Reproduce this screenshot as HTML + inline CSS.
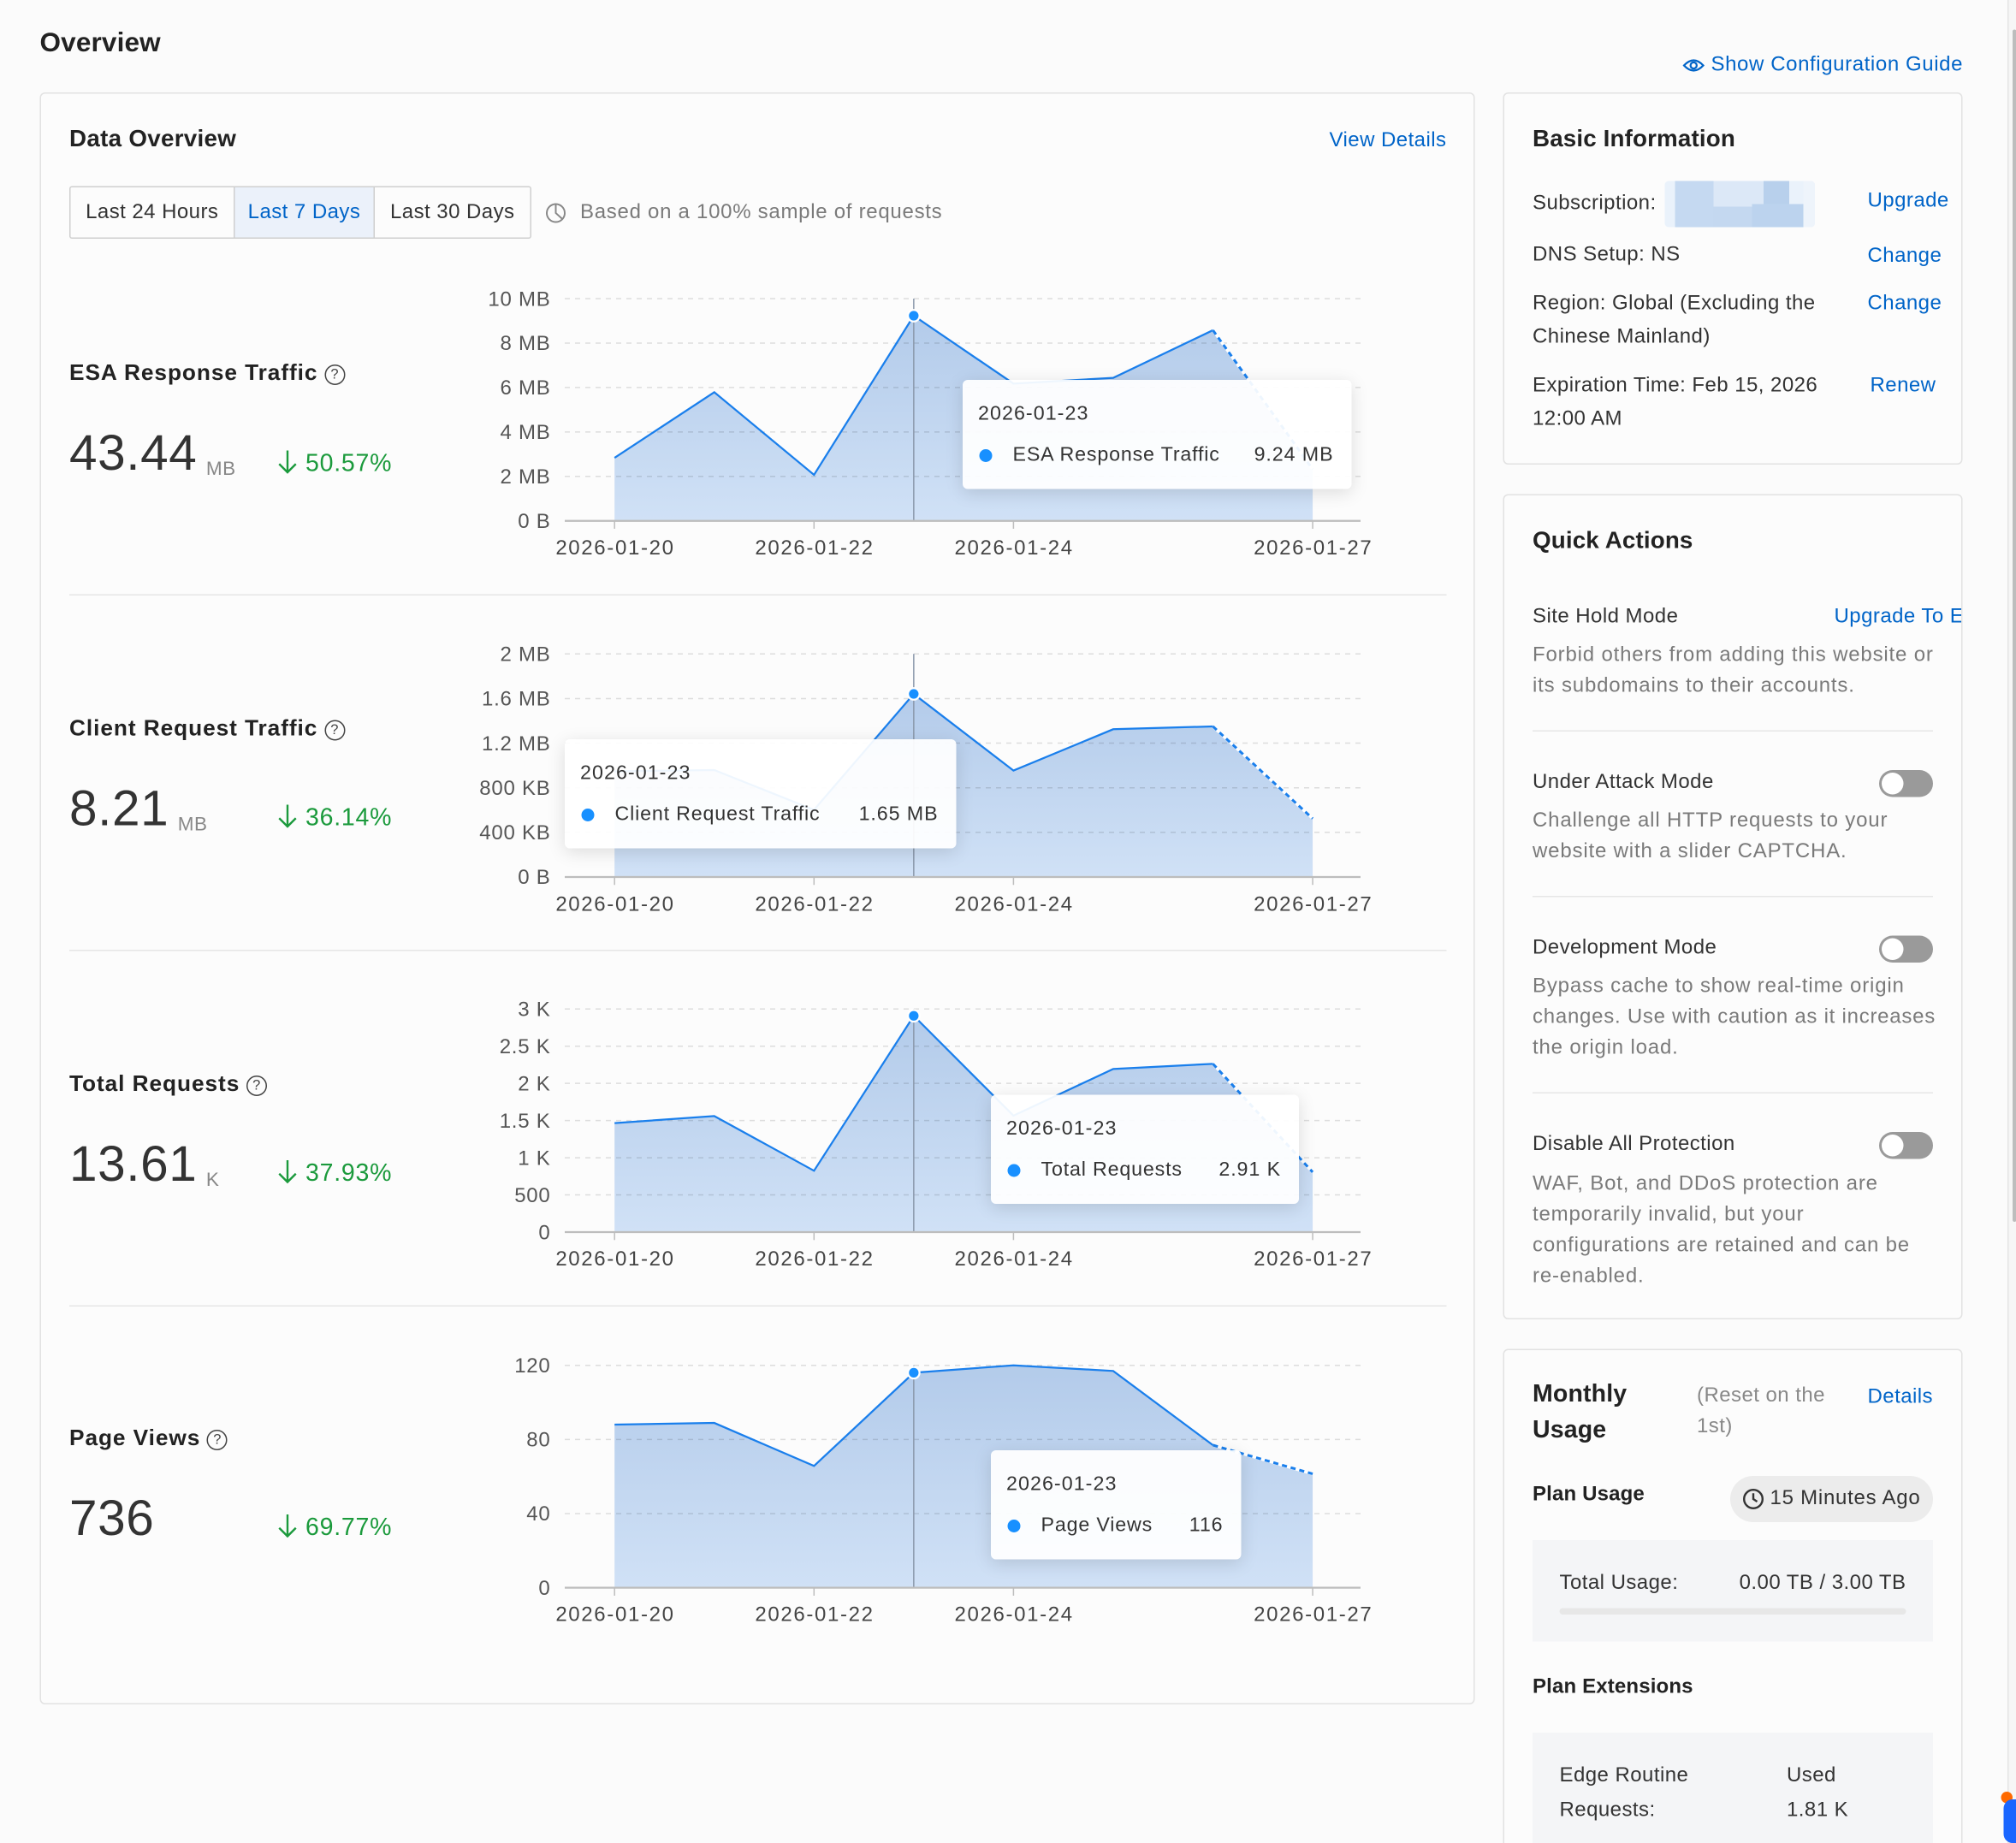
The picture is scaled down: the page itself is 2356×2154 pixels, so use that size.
<!DOCTYPE html>
<html><head><meta charset="utf-8">
<style>
html,body{margin:0;padding:0;width:2356px;height:2154px;overflow:hidden;background:#fbfbfb;}
#p{position:absolute;left:0;top:0;width:1571px;height:1436px;transform:scale(1.5);transform-origin:0 0;font-family:"Liberation Sans",Arial,sans-serif;color:#333;background:#fbfbfb;overflow:hidden;}
.t{position:absolute;white-space:nowrap;line-height:24px;font-size:16px;letter-spacing:0.3px;}
.b{font-weight:bold;color:#222;letter-spacing:0.1px;}
.lnk{color:#0064c8;}
.g{color:#7a7a7a;}
.card{position:absolute;border:1px solid #e2e2e2;border-radius:4px;background:#fcfcfc;box-sizing:border-box;}
.div{position:absolute;height:1px;background:#e6e6e6;}
.tog{position:absolute;width:42px;height:21px;border-radius:11px;background:#9a9a9a;}
.tog:after{content:"";position:absolute;left:2px;top:2px;width:17px;height:17px;border-radius:50%;background:#fff;}
.tip{position:absolute;height:85px;background:rgba(255,255,255,0.93);border-radius:4px;box-shadow:0 3px 14px rgba(0,0,0,0.13);font-size:15.5px;color:#333;}
.tip .td{position:absolute;left:12px;top:15px;line-height:24px;letter-spacing:0.7px;}
.tip .tr{position:absolute;left:13px;right:14px;top:47px;line-height:24px;display:flex;align-items:center;white-space:nowrap;letter-spacing:0.55px;}
.tip .dot{width:10px;height:10px;border-radius:50%;background:#1890ff;margin-right:16px;flex:none;}
.tip .tv{margin-left:auto;letter-spacing:0.6px;}
.help{display:inline-block;width:14px;height:14px;border:1.4px solid #444;border-radius:50%;font-size:11px;line-height:14px;text-align:center;font-weight:normal;vertical-align:1px;margin-left:5px;color:#444;letter-spacing:0;}
.num{font-size:39px;color:#333;letter-spacing:0.4px;line-height:44px;}
.unit{font-size:15px;color:#888;margin-left:7px;position:relative;top:4px;letter-spacing:0.3px;}
.pct{color:#1b9a3c;font-size:19px;letter-spacing:0.5px;}
.btn{position:absolute;top:0;height:39px;line-height:39px;text-align:center;font-size:16px;letter-spacing:0.3px;color:#333;}
.st{font-size:17.5px;letter-spacing:0.62px;}
</style></head>
<body><div id="p">

<div class="t b" style="left:31px;top:21px;font-size:21px;line-height:26px;">Overview</div>

<!-- Left card -->
<div class="card" style="left:31px;top:72px;width:1118px;height:1256px;"></div>
<div class="t b" style="left:54px;top:96px;font-size:18.5px;letter-spacing:0.2px;">Data Overview</div>
<div class="t lnk" style="right:444px;top:98px;">View Details</div>

<div style="position:absolute;left:54px;top:145px;width:360px;height:41px;border:1px solid #cfcfcf;border-radius:2px;box-sizing:border-box;">
  <div class="btn" style="left:0;width:127px;">Last 24 Hours</div>
  <div class="btn" style="left:127px;width:110px;background:#ebf1fa;color:#0064c8;border-left:1px solid #cfcfcf;border-right:1px solid #cfcfcf;box-sizing:border-box;">Last 7 Days</div>
  <div class="btn" style="left:237px;width:121px;">Last 30 Days</div>
</div>
<svg style="position:absolute;left:424px;top:157px" width="18" height="18" viewBox="0 0 18 18"><circle cx="9" cy="9" r="7" fill="none" stroke="#888" stroke-width="1.3"/><path d="M9 2 V9 L14 13.5" fill="none" stroke="#888" stroke-width="1.3"/></svg>
<div class="t g" style="left:452px;top:154px;letter-spacing:0.48px;">Based on a 100% sample of requests</div>

<div class="div" style="left:54px;top:463px;width:1073px;"></div>
<div class="div" style="left:54px;top:740px;width:1073px;"></div>
<div class="div" style="left:54px;top:1017px;width:1073px;"></div>

<!-- Section 1 -->
<div class="t b st" style="left:54px;top:278px;">ESA Response Traffic<span class="help">?</span></div>
<div class="t" style="left:54px;top:332px;line-height:44px;"><span class="num">43.44</span><span class="unit">MB</span></div>
<div class="t pct" style="left:216px;top:350px;"><svg width="16" height="20" viewBox="0 0 16 20" style="vertical-align:-3px;margin-right:6px"><path d="M8 1 V18 M1.5 11.5 L8 18 L14.5 11.5" fill="none" stroke="#1b9a3c" stroke-width="1.6"/></svg>50.57%</div>

<!-- Section 2 -->
<div class="t b st" style="left:54px;top:555px;">Client Request Traffic<span class="help">?</span></div>
<div class="t" style="left:54px;top:609px;line-height:44px;"><span class="num">8.21</span><span class="unit">MB</span></div>
<div class="t pct" style="left:216px;top:626px;"><svg width="16" height="20" viewBox="0 0 16 20" style="vertical-align:-3px;margin-right:6px"><path d="M8 1 V18 M1.5 11.5 L8 18 L14.5 11.5" fill="none" stroke="#1b9a3c" stroke-width="1.6"/></svg>36.14%</div>

<!-- Section 3 -->
<div class="t b st" style="left:54px;top:832px;">Total Requests<span class="help">?</span></div>
<div class="t" style="left:54px;top:886px;line-height:44px;"><span class="num">13.61</span><span class="unit">K</span></div>
<div class="t pct" style="left:216px;top:903px;"><svg width="16" height="20" viewBox="0 0 16 20" style="vertical-align:-3px;margin-right:6px"><path d="M8 1 V18 M1.5 11.5 L8 18 L14.5 11.5" fill="none" stroke="#1b9a3c" stroke-width="1.6"/></svg>37.93%</div>

<!-- Section 4 -->
<div class="t b st" style="left:54px;top:1108px;">Page Views<span class="help">?</span></div>
<div class="t" style="left:54px;top:1162px;line-height:44px;"><span class="num">736</span></div>
<div class="t pct" style="left:216px;top:1179px;"><svg width="16" height="20" viewBox="0 0 16 20" style="vertical-align:-3px;margin-right:6px"><path d="M8 1 V18 M1.5 11.5 L8 18 L14.5 11.5" fill="none" stroke="#1b9a3c" stroke-width="1.6"/></svg>69.77%</div>

<!-- Charts -->
<svg style="position:absolute;left:0;top:0" width="1571" height="1436" viewBox="0 0 1571 1436" font-family="Liberation Sans, Arial, sans-serif">
<defs>
<linearGradient id="gr" x1="0" y1="0" x2="0" y2="1"><stop offset="0" stop-color="#b3cbea"/><stop offset="1" stop-color="#d0e1f6"/></linearGradient>
</defs>

<!-- Chart 1 -->
<path d="M478.8,405.8 L478.8,356.7 L556.5,305.6 L634.2,370 L711.9,246 L789.6,298.9 L867.3,294.4 L945,257.3 L1022.7,365.6 L1022.7,405.8 Z" fill="url(#gr)"/>
<g stroke="rgba(0,0,0,0.12)" stroke-dasharray="4 4" stroke-width="1">
<line x1="440" y1="232.7" x2="1060" y2="232.7"/><line x1="440" y1="267.3" x2="1060" y2="267.3"/><line x1="440" y1="301.9" x2="1060" y2="301.9"/><line x1="440" y1="336.6" x2="1060" y2="336.6"/><line x1="440" y1="371.2" x2="1060" y2="371.2"/>
</g>
<line x1="711.9" y1="232.7" x2="711.9" y2="405.8" stroke="#8a98ab" stroke-width="1"/>
<line x1="440" y1="405.8" x2="1060" y2="405.8" stroke="#bdbdbd" stroke-width="1.5"/>
<g stroke="#bdbdbd" stroke-width="1"><line x1="478.8" y1="405.8" x2="478.8" y2="412"/><line x1="634.2" y1="405.8" x2="634.2" y2="412"/><line x1="789.6" y1="405.8" x2="789.6" y2="412"/><line x1="1022.7" y1="405.8" x2="1022.7" y2="412"/></g>
<path d="M478.8,356.7 L556.5,305.6 L634.2,370 L711.9,246 L789.6,298.9 L867.3,294.4 L945,257.3" fill="none" stroke="#1a7fec" stroke-width="1.5"/>
<line x1="945" y1="257.3" x2="1022.7" y2="365.6" stroke="#fff" stroke-width="2.2"/>
<line x1="945" y1="257.3" x2="1022.7" y2="365.6" stroke="#1a7fec" stroke-width="2" stroke-dasharray="4 3"/>
<circle cx="711.9" cy="246" r="4.5" fill="#1890ff" stroke="#fff" stroke-width="1.5"/>
<g font-size="16" fill="#555" text-anchor="end" letter-spacing="0.5">
<text x="429" y="238.2">10 MB</text><text x="429" y="272.8">8 MB</text><text x="429" y="307.4">6 MB</text><text x="429" y="342.1">4 MB</text><text x="429" y="376.7">2 MB</text><text x="429" y="411.3">0 B</text>
</g>
<g font-size="16" fill="#444" text-anchor="middle" letter-spacing="1.1">
<text x="479.3" y="432">2026-01-20</text><text x="634.7" y="432">2026-01-22</text><text x="790.1" y="432">2026-01-24</text><text x="1023.2" y="432">2026-01-27</text>
</g>

<!-- Chart 2 -->
<path d="M478.8,683.3 L478.8,601 L556.5,600 L634.2,631 L711.9,540.7 L789.6,600.4 L867.3,568.2 L945,566 L1022.7,637.8 L1022.7,683.3 Z" fill="url(#gr)"/>
<g stroke="rgba(0,0,0,0.12)" stroke-dasharray="4 4" stroke-width="1">
<line x1="440" y1="509.5" x2="1060" y2="509.5"/><line x1="440" y1="544.3" x2="1060" y2="544.3"/><line x1="440" y1="579" x2="1060" y2="579"/><line x1="440" y1="613.8" x2="1060" y2="613.8"/><line x1="440" y1="648.5" x2="1060" y2="648.5"/>
</g>
<line x1="711.9" y1="509.5" x2="711.9" y2="683.3" stroke="#8a98ab" stroke-width="1"/>
<line x1="440" y1="683.3" x2="1060" y2="683.3" stroke="#bdbdbd" stroke-width="1.5"/>
<g stroke="#bdbdbd" stroke-width="1"><line x1="478.8" y1="683.3" x2="478.8" y2="689.5"/><line x1="634.2" y1="683.3" x2="634.2" y2="689.5"/><line x1="789.6" y1="683.3" x2="789.6" y2="689.5"/><line x1="1022.7" y1="683.3" x2="1022.7" y2="689.5"/></g>
<path d="M478.8,601 L556.5,600 L634.2,631 L711.9,540.7 L789.6,600.4 L867.3,568.2 L945,566" fill="none" stroke="#1a7fec" stroke-width="1.5"/>
<line x1="945" y1="566" x2="1022.7" y2="637.8" stroke="#fff" stroke-width="2.2"/>
<line x1="945" y1="566" x2="1022.7" y2="637.8" stroke="#1a7fec" stroke-width="2" stroke-dasharray="4 3"/>
<circle cx="711.9" cy="540.7" r="4.5" fill="#1890ff" stroke="#fff" stroke-width="1.5"/>
<g font-size="16" fill="#555" text-anchor="end" letter-spacing="0.5">
<text x="429" y="515">2 MB</text><text x="429" y="549.8">1.6 MB</text><text x="429" y="584.5">1.2 MB</text><text x="429" y="619.3">800 KB</text><text x="429" y="654">400 KB</text><text x="429" y="688.8">0 B</text>
</g>
<g font-size="16" fill="#444" text-anchor="middle" letter-spacing="1.1">
<text x="479.3" y="709.5">2026-01-20</text><text x="634.7" y="709.5">2026-01-22</text><text x="790.1" y="709.5">2026-01-24</text><text x="1023.2" y="709.5">2026-01-27</text>
</g>

<!-- Chart 3 -->
<path d="M478.8,960 L478.8,875.1 L556.5,869.6 L634.2,912.2 L711.9,791.5 L789.6,869.3 L867.3,832.9 L945,828.9 L1022.7,913.3 L1022.7,960 Z" fill="url(#gr)"/>
<g stroke="rgba(0,0,0,0.12)" stroke-dasharray="4 4" stroke-width="1">
<line x1="440" y1="786.2" x2="1060" y2="786.2"/><line x1="440" y1="815.2" x2="1060" y2="815.2"/><line x1="440" y1="844.1" x2="1060" y2="844.1"/><line x1="440" y1="873.1" x2="1060" y2="873.1"/><line x1="440" y1="902.1" x2="1060" y2="902.1"/><line x1="440" y1="931" x2="1060" y2="931"/>
</g>
<line x1="711.9" y1="786.2" x2="711.9" y2="960" stroke="#8a98ab" stroke-width="1"/>
<line x1="440" y1="960" x2="1060" y2="960" stroke="#bdbdbd" stroke-width="1.5"/>
<g stroke="#bdbdbd" stroke-width="1"><line x1="478.8" y1="960" x2="478.8" y2="966.2"/><line x1="634.2" y1="960" x2="634.2" y2="966.2"/><line x1="789.6" y1="960" x2="789.6" y2="966.2"/><line x1="1022.7" y1="960" x2="1022.7" y2="966.2"/></g>
<path d="M478.8,875.1 L556.5,869.6 L634.2,912.2 L711.9,791.5 L789.6,869.3 L867.3,832.9 L945,828.9" fill="none" stroke="#1a7fec" stroke-width="1.5"/>
<line x1="945" y1="828.9" x2="1022.7" y2="913.3" stroke="#fff" stroke-width="2.2"/>
<line x1="945" y1="828.9" x2="1022.7" y2="913.3" stroke="#1a7fec" stroke-width="2" stroke-dasharray="4 3"/>
<circle cx="711.9" cy="791.5" r="4.5" fill="#1890ff" stroke="#fff" stroke-width="1.5"/>
<g font-size="16" fill="#555" text-anchor="end" letter-spacing="0.5">
<text x="429" y="791.7">3 K</text><text x="429" y="820.7">2.5 K</text><text x="429" y="849.6">2 K</text><text x="429" y="878.6">1.5 K</text><text x="429" y="907.6">1 K</text><text x="429" y="936.5">500</text><text x="429" y="965.5">0</text>
</g>
<g font-size="16" fill="#444" text-anchor="middle" letter-spacing="1.1">
<text x="479.3" y="986">2026-01-20</text><text x="634.7" y="986">2026-01-22</text><text x="790.1" y="986">2026-01-24</text><text x="1023.2" y="986">2026-01-27</text>
</g>

<!-- Chart 4 -->
<path d="M478.8,1237.1 L478.8,1110 L556.5,1108.7 L634.2,1142.2 L711.9,1069.6 L789.6,1063.8 L867.3,1068.2 L945,1126 L1022.7,1148.4 L1022.7,1237.1 Z" fill="url(#gr)"/>
<g stroke="rgba(0,0,0,0.12)" stroke-dasharray="4 4" stroke-width="1">
<line x1="440" y1="1063.8" x2="1060" y2="1063.8"/><line x1="440" y1="1121.6" x2="1060" y2="1121.6"/><line x1="440" y1="1179.3" x2="1060" y2="1179.3"/>
</g>
<line x1="711.9" y1="1063.8" x2="711.9" y2="1237.1" stroke="#8a98ab" stroke-width="1"/>
<line x1="440" y1="1237.1" x2="1060" y2="1237.1" stroke="#bdbdbd" stroke-width="1.5"/>
<g stroke="#bdbdbd" stroke-width="1"><line x1="478.8" y1="1237.1" x2="478.8" y2="1243.3"/><line x1="634.2" y1="1237.1" x2="634.2" y2="1243.3"/><line x1="789.6" y1="1237.1" x2="789.6" y2="1243.3"/><line x1="1022.7" y1="1237.1" x2="1022.7" y2="1243.3"/></g>
<path d="M478.8,1110 L556.5,1108.7 L634.2,1142.2 L711.9,1069.6 L789.6,1063.8 L867.3,1068.2 L945,1126" fill="none" stroke="#1a7fec" stroke-width="1.5"/>
<line x1="945" y1="1126" x2="1022.7" y2="1148.4" stroke="#fff" stroke-width="2.2"/>
<line x1="945" y1="1126" x2="1022.7" y2="1148.4" stroke="#1a7fec" stroke-width="2" stroke-dasharray="4 3"/>
<circle cx="711.9" cy="1069.6" r="4.5" fill="#1890ff" stroke="#fff" stroke-width="1.5"/>
<g font-size="16" fill="#555" text-anchor="end" letter-spacing="0.5">
<text x="429" y="1069.3">120</text><text x="429" y="1127.1">80</text><text x="429" y="1184.8">40</text><text x="429" y="1242.6">0</text>
</g>
<g font-size="16" fill="#444" text-anchor="middle" letter-spacing="1.1">
<text x="479.3" y="1263">2026-01-20</text><text x="634.7" y="1263">2026-01-22</text><text x="790.1" y="1263">2026-01-24</text><text x="1023.2" y="1263">2026-01-27</text>
</g>
</svg>

<!-- Tooltips -->
<div class="tip" style="left:750px;top:296px;width:303px;"><div class="td">2026-01-23</div><div class="tr"><span class="dot"></span><span>ESA Response Traffic</span><span class="tv">9.24 MB</span></div></div>
<div class="tip" style="left:440px;top:576px;width:305px;"><div class="td">2026-01-23</div><div class="tr"><span class="dot"></span><span>Client Request Traffic</span><span class="tv">1.65 MB</span></div></div>
<div class="tip" style="left:772px;top:853px;width:240px;"><div class="td">2026-01-23</div><div class="tr"><span class="dot"></span><span>Total Requests</span><span class="tv">2.91 K</span></div></div>
<div class="tip" style="left:772px;top:1130px;width:195px;"><div class="td">2026-01-23</div><div class="tr"><span class="dot"></span><span>Page Views</span><span class="tv">116</span></div></div>

<!-- Right column -->
<svg style="position:absolute;left:1311px;top:44px" width="17" height="14" viewBox="0 0 17 14"><path d="M1 7 Q8.5 -1 16 7 Q8.5 15 1 7 Z" fill="none" stroke="#0064c8" stroke-width="1.5"/><circle cx="8.5" cy="7" r="2.4" fill="none" stroke="#0064c8" stroke-width="1.5"/></svg>
<div class="t lnk" style="left:1333px;top:39px;letter-spacing:0.4px;">Show Configuration Guide</div>

<div class="card" style="left:1171px;top:72px;width:358px;height:290px;"></div>
<div class="t b" style="left:1194px;top:96px;font-size:18.5px;">Basic Information</div>
<div class="t" style="left:1194px;top:147px;">Subscription:</div>
<div style="position:absolute;left:1297px;top:141px;width:117px;height:36px;background:#eaf2fb;border-radius:3px;overflow:hidden;">
  <div style="position:absolute;left:8px;top:0;width:30px;height:36px;background:#c5d9f1;"></div>
  <div style="position:absolute;left:38px;top:0;width:50px;height:20px;background:#dce8f7;"></div>
  <div style="position:absolute;left:38px;top:20px;width:30px;height:16px;background:#c4d8f0;"></div>
  <div style="position:absolute;left:77px;top:0;width:20px;height:18px;background:#b8d0ec;"></div>
  <div style="position:absolute;left:68px;top:18px;width:40px;height:18px;background:#bcd3ee;"></div>
  <div style="position:absolute;left:108px;top:0;width:9px;height:36px;background:#eef4fb;"></div>
</div>
<div class="t lnk" style="left:1455px;top:145px;">Upgrade</div>
<div class="t" style="left:1194px;top:187px;">DNS Setup: NS</div>
<div class="t lnk" style="left:1455px;top:188px;">Change</div>
<div class="t" style="left:1194px;top:225px;">Region: Global (Excluding the</div>
<div class="t" style="left:1194px;top:251px;">Chinese Mainland)</div>
<div class="t lnk" style="left:1455px;top:225px;">Change</div>
<div class="t" style="left:1194px;top:289px;">Expiration Time: Feb 15, 2026</div>
<div class="t" style="left:1194px;top:315px;">12:00 AM</div>
<div class="t lnk" style="left:1457px;top:289px;">Renew</div>

<div class="card" style="left:1171px;top:385px;width:358px;height:643px;"></div>
<div class="t b" style="left:1194px;top:409px;font-size:18.5px;">Quick Actions</div>
<div class="t" style="left:1194px;top:469px;">Site Hold Mode</div>
<div style="position:absolute;left:1429px;top:469px;width:99px;height:24px;overflow:hidden;"><div class="t lnk" style="left:0;top:0;">Upgrade To Enterprise</div></div>
<div class="t g" style="left:1194px;top:499px;letter-spacing:0.55px;">Forbid others from adding this website or</div>
<div class="t g" style="left:1194px;top:523px;letter-spacing:0.55px;">its subdomains to their accounts.</div>
<div class="div" style="left:1194px;top:569px;width:312px;"></div>
<div class="t" style="left:1194px;top:598px;">Under Attack Mode</div>
<div class="tog" style="left:1464px;top:600px;"></div>
<div class="t g" style="left:1194px;top:628px;letter-spacing:0.55px;">Challenge all HTTP requests to your</div>
<div class="t g" style="left:1194px;top:652px;letter-spacing:0.55px;">website with a slider CAPTCHA.</div>
<div class="div" style="left:1194px;top:698px;width:312px;"></div>
<div class="t" style="left:1194px;top:727px;">Development Mode</div>
<div class="tog" style="left:1464px;top:729px;"></div>
<div class="t g" style="left:1194px;top:757px;letter-spacing:0.55px;">Bypass cache to show real-time origin</div>
<div class="t g" style="left:1194px;top:781px;letter-spacing:0.5px;">changes. Use with caution as it increases</div>
<div class="t g" style="left:1194px;top:805px;letter-spacing:0.55px;">the origin load.</div>
<div class="div" style="left:1194px;top:851px;width:312px;"></div>
<div class="t" style="left:1194px;top:880px;">Disable All Protection</div>
<div class="tog" style="left:1464px;top:882px;"></div>
<div class="t g" style="left:1194px;top:911px;letter-spacing:0.55px;">WAF, Bot, and DDoS protection are</div>
<div class="t g" style="left:1194px;top:935px;letter-spacing:0.55px;">temporarily invalid, but your</div>
<div class="t g" style="left:1194px;top:959px;letter-spacing:0.55px;">configurations are retained and can be</div>
<div class="t g" style="left:1194px;top:983px;letter-spacing:0.55px;">re-enabled.</div>

<div class="card" style="left:1171px;top:1051px;width:358px;height:420px;"></div>
<div class="t b" style="left:1194px;top:1075px;font-size:19px;">Monthly</div>
<div class="t b" style="left:1194px;top:1103px;font-size:19px;">Usage</div>
<div class="t g" style="left:1322px;top:1076px;color:#888;">(Reset on the</div>
<div class="t g" style="left:1322px;top:1100px;color:#888;">1st)</div>
<div class="t lnk" style="left:1455px;top:1077px;">Details</div>
<div class="t b" style="left:1194px;top:1153px;font-size:16px;">Plan Usage</div>
<div style="position:absolute;left:1348px;top:1150px;width:158px;height:36px;border-radius:18px;background:#ececec;"></div>
<svg style="position:absolute;left:1357px;top:1159px" width="18" height="18" viewBox="0 0 18 18"><circle cx="9" cy="9" r="7.2" fill="none" stroke="#333" stroke-width="1.6"/><path d="M9 4.5 V9 L12 11" fill="none" stroke="#333" stroke-width="1.6"/></svg>
<div class="t" style="left:1379px;top:1156px;letter-spacing:0.5px;">15 Minutes Ago</div>
<div style="position:absolute;left:1194px;top:1200px;width:312px;height:79px;background:#f4f5f7;"></div>
<div class="t" style="left:1215px;top:1222px;">Total Usage:</div>
<div class="t" style="right:86px;top:1222px;">0.00 TB / 3.00 TB</div>
<div style="position:absolute;left:1215px;top:1253px;width:270px;height:5px;border-radius:3px;background:#e7e7e7;"></div>
<div class="t b" style="left:1194px;top:1303px;font-size:16px;">Plan Extensions</div>
<div style="position:absolute;left:1194px;top:1350px;width:312px;height:100px;background:#f4f5f7;"></div>
<div class="t" style="left:1215px;top:1372px;">Edge Routine</div>
<div class="t" style="left:1215px;top:1399px;">Requests:</div>
<div class="t" style="left:1392px;top:1372px;">Used</div>
<div class="t" style="left:1392px;top:1399px;">1.81 K</div>

<!-- scrollbar -->
<div style="position:absolute;left:1564px;top:0;width:7px;height:1436px;background:#f6f6f6;border-left:1px solid #e4e4e4;box-sizing:border-box;"></div>
<div style="position:absolute;left:1567.5px;top:23px;width:3px;height:929px;background:#bdbdbd;border-radius:2px;"></div>
<div style="position:absolute;left:1559px;top:1396px;width:9px;height:9px;border-radius:50%;background:#ff6a00;"></div>
<div style="position:absolute;left:1561px;top:1402px;width:14px;height:34px;border-radius:7px 0 0 7px;background:#1a66ff;"></div>

</div></body></html>
